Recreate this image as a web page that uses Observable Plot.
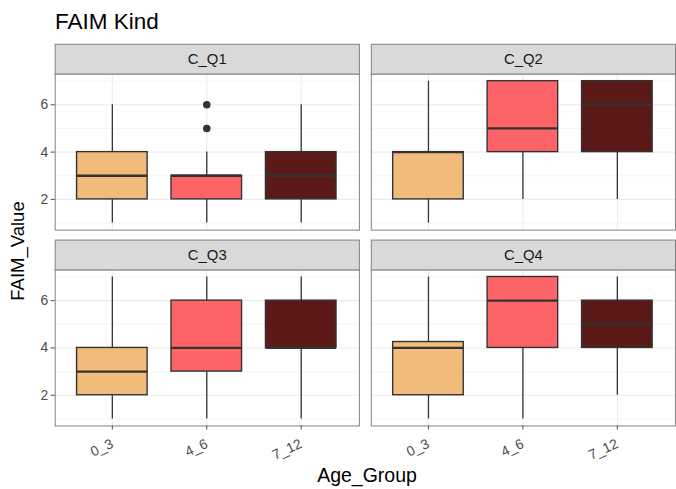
<!DOCTYPE html>
<html><head><meta charset="utf-8">
<script src="https://cdn.jsdelivr.net/npm/d3@7"></script>
<script src="https://cdn.jsdelivr.net/npm/@observablehq/plot@0.6"></script>
<style>
body{margin:0;overflow:hidden;background:#fff;font-family:"Liberation Sans",Arial,sans-serif}
#wrap{position:relative;width:676px;height:489px;overflow:hidden}
#wrap svg{position:absolute;left:0;top:0}
.lbl{position:absolute;line-height:1;color:#000;white-space:nowrap}
#title{left:55px;top:11px;font-size:22.5px}
#xlab{left:367px;top:466px;font-size:19.5px;transform:translateX(-50%)}
#ylab{left:17.5px;top:251px;font-size:18.5px;transform:translate(-50%,-50%) rotate(-90deg)}
</style></head><body>
<div id="wrap"></div>
<script>
const panels = ["C_Q1", "C_Q2", "C_Q3", "C_Q4"];
const groups = ["0_3", "4_6", "7_12"];
const colors = ["#F1BB7B", "#FD6467", "#5B1A18"];
// per panel, per group
const lowerWhisker = [[1, 1, 1], [1, 2, 2], [1, 1, 1], [1, 1, 2]];
const lowerQuartile = [[2, 2, 2], [2, 4, 4], [2, 3, 4], [2, 4, 4]];
const medians = [[3, 3, 3], [4, 5, 6], [3, 4, 4], [4, 6, 5]];
const upperQuartile = [[4, 3, 4], [4, 7, 7], [4, 6, 6], [4.25, 7, 6]];
const upperWhisker = [[6, 4, 6], [7, 7, 7], [7, 7, 7], [7, 7, 7]];
const outlierPanel = ["C_Q1", "C_Q1"];
const outlierGroup = ["4_6", "4_6"];
const outlierValue = [5, 6];
const yTicks = [2, 4, 6];
const yMinor = [1, 3, 5, 7];

const panelRows = panels.map((p, i) => ({panel: p, col: i % 2, row: Math.floor(i / 2)}));
const rows = [];
panels.forEach((p, i) => groups.forEach((g, j) => rows.push({
  panel: p, col: i % 2, row: Math.floor(i / 2), group: g,
  lo: lowerWhisker[i][j], q1: lowerQuartile[i][j], med: medians[i][j],
  q3: upperQuartile[i][j], hi: upperWhisker[i][j]
})));
const outRows = outlierValue.map((v, k) => {
  const i = panels.indexOf(outlierPanel[k]);
  return {col: i % 2, row: Math.floor(i / 2), group: outlierGroup[k], value: v};
});

const fxy = {fx: "col", fy: "row"};
const chart = Plot.plot({
  width: 680, height: 489,
  marginLeft: 55, marginRight: 1, marginTop: 74, marginBottom: 61,
  style: {fontFamily: "Liberation Sans, Arial, sans-serif", background: "white", overflow: "visible"},
  fx: {domain: [0, 1], axis: null, paddingInner: 12 / 318, paddingOuter: 0},
  fy: {domain: [0, 1], axis: null, paddingInner: 40 / 197, paddingOuter: 0},
  x: {domain: groups, paddingInner: 0.25, paddingOuter: 0.225},
  y: {domain: [0.7, 7.3]},
  color: {domain: groups, range: colors},
  marks: [
    Plot.ruleY(yMinor, {stroke: "#f3f3f3", strokeWidth: 0.8}),
    Plot.ruleY(yTicks, {stroke: "#ebebeb", strokeWidth: 1.1}),
    Plot.ruleX(groups, {stroke: "#ebebeb", strokeWidth: 1.1}),
    Plot.ruleX(rows, {...fxy, x: "group", y1: "lo", y2: "hi", stroke: "#333", strokeWidth: 1.3}),
    Plot.barY(rows, {...fxy, x: "group", y1: "q1", y2: "q3", fill: "group", stroke: "#333", strokeWidth: 1.4}),
    Plot.tickY(rows, {...fxy, x: "group", y: "med", stroke: "#333", strokeWidth: 2.3}),
    Plot.dot(outRows, {...fxy, x: "group", y: "value", r: 3.8, fill: "#333", stroke: null}),
    Plot.frame({stroke: "#808080", strokeWidth: 1}),
    Plot.frame({fill: "#d9d9d9", stroke: "#808080", strokeWidth: 1, insetTop: -30, insetBottom: 157}),
    Plot.text(panelRows, {...fxy, text: "panel", frameAnchor: "top", dy: -15, lineAnchor: "middle", fontSize: 15, fill: "#1a1a1a"}),
    Plot.axisY({ticks: yTicks, tickFormat: d3.format("d"), tickSize: 4, tickPadding: 3, fontSize: 14, color: "#4d4d4d", label: null}),
    Plot.axisX({tickRotate: -25, tickSize: 4, tickPadding: 13, fontSize: 14, color: "#4d4d4d", label: null})
  ]
});
const wrap = document.getElementById("wrap");
wrap.appendChild(chart);
for (const [id, t] of [["title", "FAIM Kind"], ["xlab", "Age_Group"], ["ylab", "FAIM_Value"]]) {
  const d = document.createElement("div");
  d.id = id; d.className = "lbl"; d.textContent = t;
  wrap.appendChild(d);
}
</script>
</body></html>
